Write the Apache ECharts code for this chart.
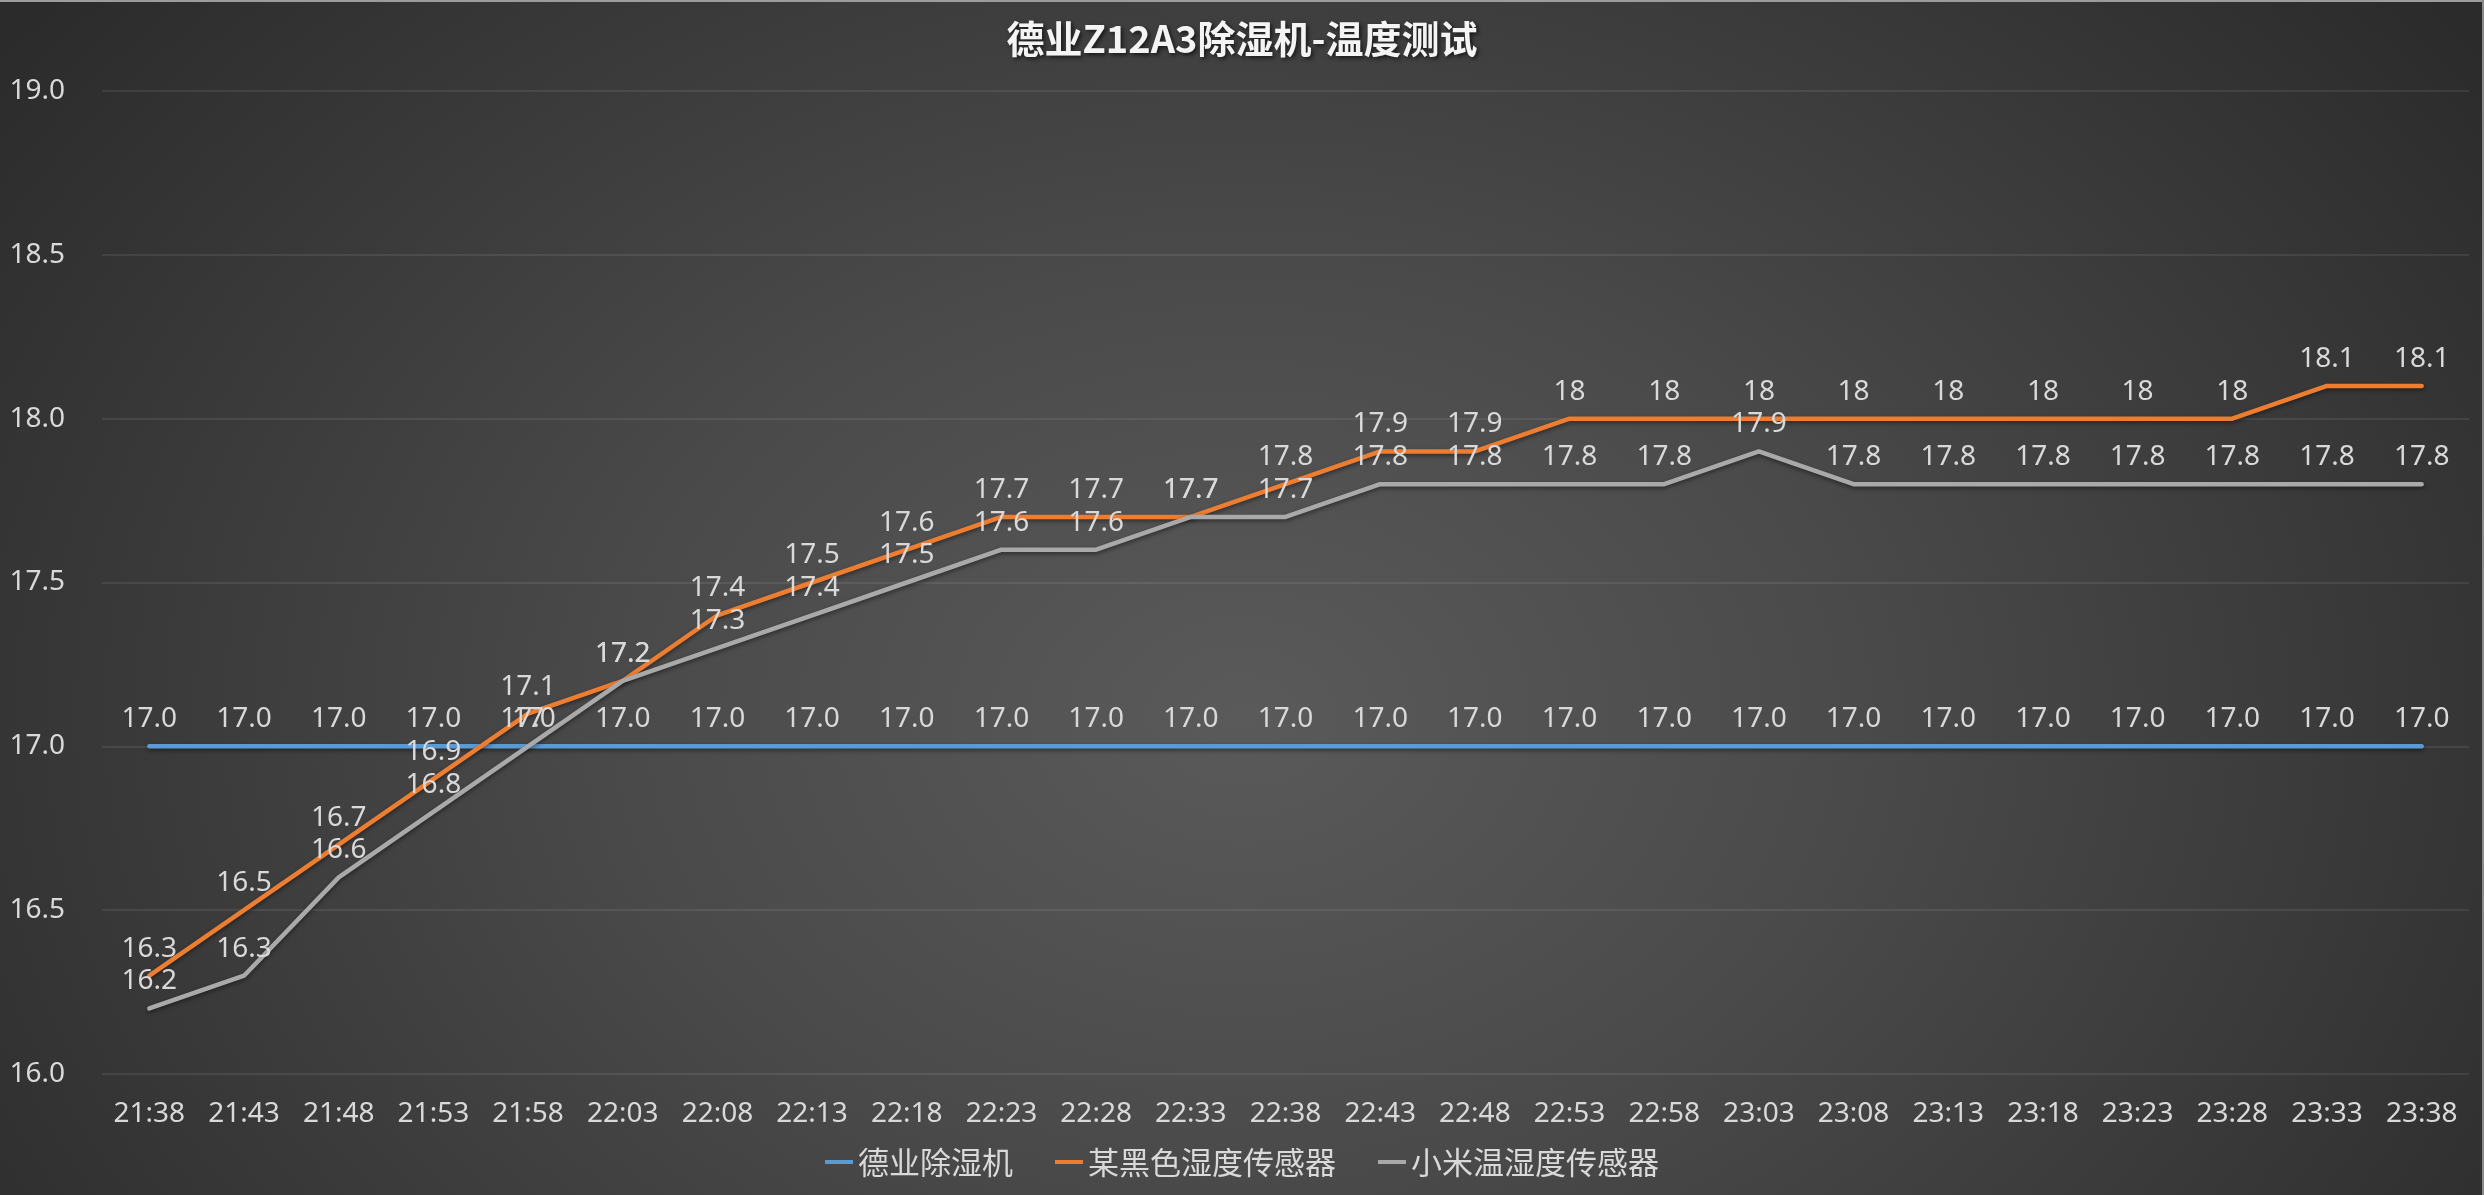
<!DOCTYPE html>
<html>
<head>
<meta charset="utf-8">
<title>德业Z12A3除湿机-温度测试</title>
<script src="https://cdn.jsdelivr.net/npm/echarts@6/dist/echarts.min.js"></script>
<style>
  html, body { margin: 0; padding: 0; width: 2484px; height: 1195px; overflow: hidden; background: #2c2c2c; }
  #chart {
    width: 2484px; height: 1195px;
    background: radial-gradient(ellipse 62% 95% at 50% 60%, #5a5a5a 0%, #4a4a4a 40%, #2b2b2b 100%);
  }
</style>
</head>
<body>
<div id="chart"></div>
<script>
// Sampling times (every 5 minutes)
const times = [
  '21:38', '21:43', '21:48', '21:53', '21:58', '22:03', '22:08', '22:13', '22:18',
  '22:23', '22:28', '22:33', '22:38', '22:43', '22:48', '22:53', '22:58', '23:03',
  '23:08', '23:13', '23:18', '23:23', '23:28', '23:33', '23:38'
];

// 德业除湿机 reading (°C)
const dehumidifier = [
  17.0, 17.0, 17.0, 17.0, 17.0, 17.0, 17.0, 17.0, 17.0, 17.0, 17.0, 17.0, 17.0,
  17.0, 17.0, 17.0, 17.0, 17.0, 17.0, 17.0, 17.0, 17.0, 17.0, 17.0, 17.0
];

// 某黑色湿度传感器 reading (°C)
const blackSensor = [
  16.3, 16.5, 16.7, 16.9, 17.1, 17.2, 17.4, 17.5, 17.6, 17.7, 17.7, 17.7, 17.8,
  17.9, 17.9, 18, 18, 18, 18, 18, 18, 18, 18, 18.1, 18.1
];

// 小米温湿度传感器 reading (°C)
const xiaomiSensor = [
  16.2, 16.3, 16.6, 16.8, 17, 17.2, 17.3, 17.4, 17.5, 17.6, 17.6, 17.7, 17.7,
  17.8, 17.8, 17.8, 17.8, 17.9, 17.8, 17.8, 17.8, 17.8, 17.8, 17.8, 17.8
];

const seriesNames = ['德业除湿机', '某黑色湿度传感器', '小米温湿度传感器'];
const seriesColors = ['#5b9bd5', '#ed7d31', '#a9a9a9'];

// Temperature axis range and step
const yMin = 16.0;
const yMax = 19.0;
const yStep = 0.5;

const textColor = '#d9d9d9';
const latinFont = '"Noto Sans", "Noto Sans CJK SC", sans-serif';
const cjkFont = '"Noto Sans CJK SC", "Noto Sans", sans-serif';

function lineSeries(name, values, color, oneDecimal) {
  return {
    name: name,
    type: 'line',
    data: values,
    symbol: 'circle',
    symbolSize: 0,
    smooth: false,
    lineStyle: {
      color: color,
      width: 4.5,
      cap: 'round',
      join: 'round',
      shadowColor: 'rgba(0,0,0,0.45)',
      shadowBlur: 4,
      shadowOffsetY: 2
    },
    itemStyle: { color: color },
    label: {
      show: true,
      position: 'top',
      distance: 13,
      color: textColor,
      fontFamily: latinFont,
      fontSize: 28,
      formatter: oneDecimal
        ? (p) => Number(p.value).toFixed(1)
        : (p) => String(p.value)
    },
    emphasis: { disabled: true },
    animation: false
  };
}

const chart = echarts.init(document.getElementById('chart'), null, { renderer: 'canvas' });

chart.setOption({
  backgroundColor: 'transparent',
  animation: false,
  title: {
    text: '德业Z12A3除湿机-温度测试',
    left: 'center',
    top: 15,
    textStyle: {
      color: '#f4f4f4',
      fontFamily: cjkFont,
      fontWeight: 'bold',
      fontSize: 38,
      textShadowColor: 'rgba(0,0,0,0.65)',
      textShadowBlur: 4,
      textShadowOffsetX: 2,
      textShadowOffsetY: 2
    }
  },
  legend: {
    data: seriesNames,
    left: 'center',
    top: 1145,
    padding: 0,
    icon: 'rect',
    itemWidth: 28,
    itemHeight: 4,
    itemGap: 42,
    textStyle: {
      color: textColor,
      fontFamily: cjkFont,
      fontSize: 31,
      lineHeight: 34
    }
  },
  grid: {
    left: 102,
    right: 15,
    top: 91,
    bottom: 121,
    containLabel: false
  },
  xAxis: {
    type: 'category',
    data: times,
    boundaryGap: true,
    axisLine: { show: false },
    axisTick: { show: false },
    axisLabel: {
      color: textColor,
      fontFamily: latinFont,
      fontSize: 28,
      margin: 26,
      interval: 0
    },
    splitLine: { show: false }
  },
  yAxis: {
    type: 'value',
    min: yMin,
    max: yMax,
    interval: yStep,
    axisLine: { show: false },
    axisTick: { show: false },
    axisLabel: {
      color: textColor,
      fontFamily: latinFont,
      fontSize: 28,
      margin: 37,
      formatter: (v) => v.toFixed(1)
    },
    splitLine: {
      lineStyle: { color: 'rgba(255,255,255,0.08)', width: 2 }
    }
  },
  series: [
    lineSeries(seriesNames[0], dehumidifier, seriesColors[0], true),
    lineSeries(seriesNames[1], blackSensor, seriesColors[1], false),
    lineSeries(seriesNames[2], xiaomiSensor, seriesColors[2], false)
  ],
  graphic: [
    { type: 'rect', left: 0, top: 0, shape: { width: 2484, height: 2 }, style: { fill: '#9c9c9c' }, silent: true },
    { type: 'rect', left: 2482, top: 0, shape: { width: 2, height: 1195 }, style: { fill: '#8a8a8a' }, silent: true }
  ]
});
</script>
</body>
</html>
